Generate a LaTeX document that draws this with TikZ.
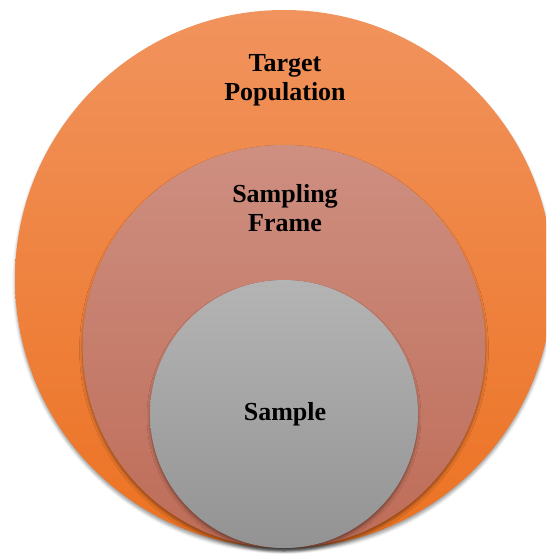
\documentclass[tikz,border=0pt]{standalone}
\usepackage{fontspec}
\setmainfont{Liberation Serif}
\usepackage{xcolor}
\usepackage{tikz}
\usetikzlibrary{shadows.blur}
\definecolor{outtop}{HTML}{F1935D}
\definecolor{outbot}{HTML}{EC7222}
\definecolor{midtop}{HTML}{CE8F81}
\definecolor{midbot}{HTML}{BE6C57}
\definecolor{inntop}{HTML}{B4B4B4}
\definecolor{innbot}{HTML}{939393}
\definecolor{ink}{HTML}{000000}
\tikzset{
  ring/.style={circle, inner sep=0pt, outer sep=0pt,
    blur shadow={shadow xshift=0pt, shadow yshift=-3pt,
      shadow blur radius=3pt, shadow opacity=40}},
  outer/.style={ring, top color=outtop, bottom color=outbot},
  middle/.style={ring, top color=midtop, bottom color=midbot},
  inner/.style={ring, top color=inntop, bottom color=innbot},
  lab/.style={text=ink, font=\fontsize{26}{29}\selectfont\bfseries, align=center}
}
\begin{document}
\begin{tikzpicture}[x=1pt, y=-1pt]
  \useasboundingbox (0,0) rectangle (546,554);
  \clip (0,0) rectangle (546,554);
  % circles, all touching at the bottom
  \node[outer, minimum size=538pt] (pop) at (284,279) {};
  \node[middle, minimum size=403pt] (frame) at (284,346.5) {};
  \node[inner, minimum size=268pt] (smp) at (284,414) {};
  % labels
  \node[lab] (poptxt) at (285,80) {Target\\Population};
  \node[lab] (frametxt) at (285,208) {Sampling\\Frame};
  \node[lab] (smptxt) at (285,414) {Sample};
\end{tikzpicture}
\end{document}
